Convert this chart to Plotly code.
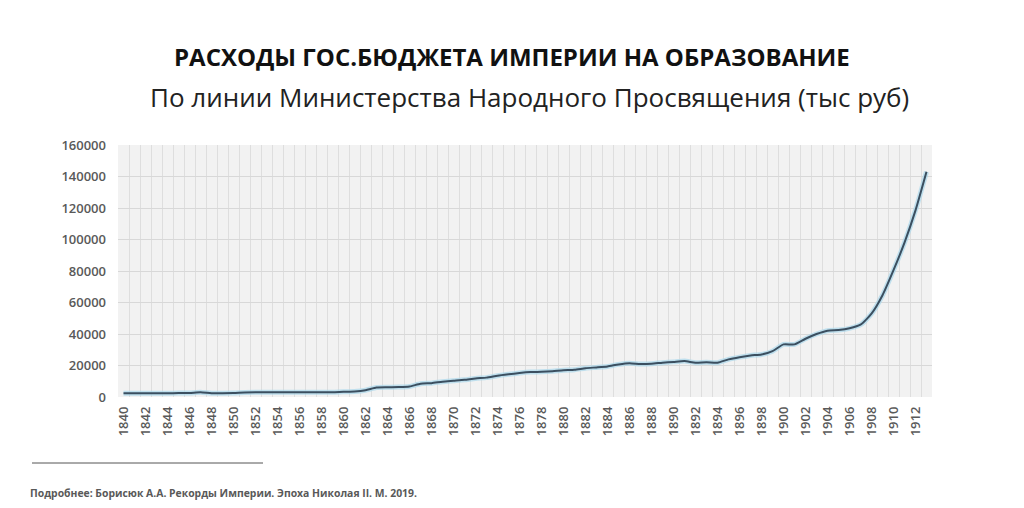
import plotly.graph_objects as go

years = list(range(1840, 1914))
spending = [
    2400, 2400, 2400, 2400, 2400, 2500, 2500, 3000, 2400, 2400,  # 1840-1849
    2500, 2900, 3000, 3000, 3000, 3000, 3000, 3000, 3000, 3000,  # 1850-1859
    3300, 3500, 4300, 6000, 6200, 6300, 6700, 8400, 8800, 9700,  # 1860-1869
    10300, 10900, 11800, 12300, 13500, 14400, 15200, 15800, 16000, 16400,  # 1870-1879
    17000, 17300, 18300, 18800, 19400, 20700, 21500, 20900, 21100, 21800,  # 1880-1889
    22300, 22800, 21800, 22100, 21800, 23900, 25300, 26400, 27000, 29100,  # 1890-1899
    33400, 33400, 37000, 40000, 42100, 42500, 43600, 45900, 52900, 64600,  # 1900-1909
    80500, 98000, 118500, 143000,  # 1910-1913
]
tick_years = list(range(1840, 1913, 2))
y_ticks = list(range(0, 160001, 20000))

title_text = "РАСХОДЫ ГОС.БЮДЖЕТА ИМПЕРИИ НА ОБРАЗОВАНИЕ"
subtitle_text = "По линии Министерства Народного Просвящения (тыс руб)"
footer_text = "Подробнее: Борисюк А.А. Рекорды Империи. Эпоха Николая II. М. 2019."

W, H = 1024, 508
L, R, T, B = 118, 92, 145, 111
PW, PH = W - L - R, H - T - B


def px(x):
    return (x - L) / PW


def py(y):
    return (H - B - y) / PH


fig = go.Figure()
# soft glow beneath the line
fig.add_trace(go.Scatter(
    x=years, y=spending, mode="lines",
    line=dict(color="rgba(170,215,235,0.7)", width=5, shape="spline", smoothing=0.6),
    hoverinfo="skip", showlegend=False,
))
fig.add_trace(go.Scatter(
    x=years, y=spending, mode="lines",
    line=dict(color="#3b4f60", width=2, shape="spline", smoothing=0.6),
    showlegend=False,
))

tick_font = dict(family="Open Sans", size=13, color="#595959", weight=600)

fig.update_layout(
    width=W, height=H,
    margin=dict(l=L, r=R, t=T, b=B, autoexpand=False),
    paper_bgcolor="white",
    plot_bgcolor="#f2f2f2",
    xaxis=dict(
        range=[1839.5, 1913.5],
        tickmode="array", tickvals=tick_years, ticktext=[str(y) for y in tick_years],
        tickangle=-90, tickfont=tick_font, showgrid=False, zeroline=False,
        ticks="", showline=False, ticklabelstandoff=6,
        minor=dict(tickmode="linear", tick0=1839.5, dtick=1, showgrid=True,
                   gridcolor="#dedede", gridwidth=1, ticks=""),
    ),
    yaxis=dict(
        range=[0, 160000], tickmode="array", tickvals=y_ticks,
        ticktext=[str(v) for v in y_ticks], tickfont=tick_font,
        showgrid=True, gridcolor="#d8d8d8", gridwidth=1, zeroline=False,
        ticks="", ticklabelstandoff=11,
    ),
    annotations=[
        dict(text="<b>" + title_text + "</b>", x=px(512), y=py(57), xref="paper", yref="paper",
             xanchor="center", yanchor="middle", showarrow=False,
             font=dict(family="Open Sans", size=24, color="#111111")),
        dict(text=subtitle_text, x=px(529), y=py(97), xref="paper", yref="paper",
             xanchor="center", yanchor="middle", showarrow=False,
             font=dict(family="Open Sans", size=26, color="#222222")),
        dict(text="<b>" + footer_text + "</b>", x=px(28), y=py(493), xref="paper", yref="paper",
             xanchor="left", yanchor="middle", showarrow=False,
             font=dict(family="Open Sans", size=10.4, color="#595959")),
    ],
    shapes=[
        dict(type="line", xref="paper", yref="paper", x0=px(32), x1=px(263), y0=py(463), y1=py(463),
             line=dict(color="#555555", width=1)),
    ],
)

fig.write_html("out.html")
